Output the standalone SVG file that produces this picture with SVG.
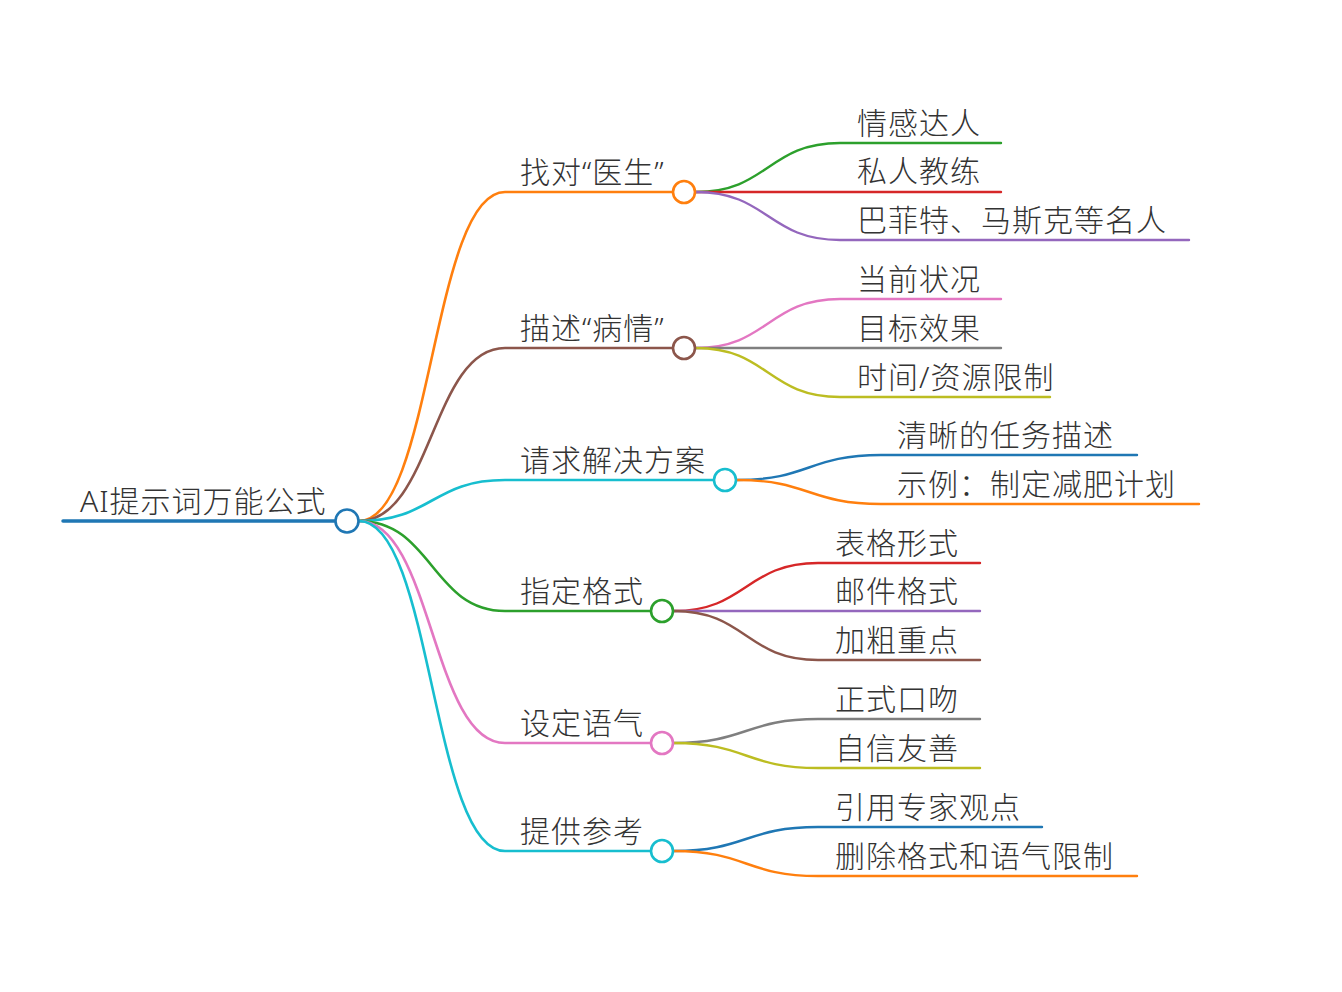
<svg xmlns="http://www.w3.org/2000/svg" width="1342" height="992" viewBox="0 0 1342 992">
<style>
text{font-family:"Noto Sans","Noto Sans CJK SC",sans-serif;font-size:30px;font-weight:300;letter-spacing:1px;fill:#333}
path{fill:none;stroke-linecap:round}
.l1{stroke-width:2.6}
.l2{stroke-width:2.4}
circle{fill:#fff;stroke-width:2.6}
</style>
<rect width="1342" height="992" fill="#fff"/>
<g id="connectors">
<path class="l1" stroke="#ff7f0e" d="M359 521C432 521 432 192 505 192H672"/>
<path class="l1" stroke="#8c564b" d="M359 521C432 521 432 348 505 348H672"/>
<path class="l1" stroke="#17becf" d="M359 521C432 521 432 480 505 480H713"/>
<path class="l1" stroke="#2ca02c" d="M359 521C432 521 432 611 505 611H650"/>
<path class="l1" stroke="#e377c2" d="M359 521C432 521 432 743 505 743H650"/>
<path class="l1" stroke="#17becf" d="M359 521C432 521 432 851 505 851H650"/>
<path class="l2" stroke="#2ca02c" d="M696 192C768 192 768 143 840 143H1001"/>
<path class="l2" stroke="#d62728" d="M696 192H1001"/>
<path class="l2" stroke="#9467bd" d="M696 192C768 192 768 240 840 240H1189"/>
<path class="l2" stroke="#e377c2" d="M696 348C768 348 768 299 840 299H1001"/>
<path class="l2" stroke="#7f7f7f" d="M696 348H1001"/>
<path class="l2" stroke="#bcbd22" d="M696 348C768 348 768 397 840 397H1050"/>
<path class="l2" stroke="#1f77b4" d="M737 480C809 480 809 455 881 455H1137"/>
<path class="l2" stroke="#ff7f0e" d="M737 480C809 480 809 504 881 504H1199"/>
<path class="l2" stroke="#d62728" d="M674 611C746 611 746 563 818 563H980"/>
<path class="l2" stroke="#9467bd" d="M674 611H980"/>
<path class="l2" stroke="#8c564b" d="M674 611C746 611 746 660 818 660H980"/>
<path class="l2" stroke="#7f7f7f" d="M674 743C746 743 746 719 818 719H980"/>
<path class="l2" stroke="#bcbd22" d="M674 743C746 743 746 768 818 768H980"/>
<path class="l2" stroke="#1f77b4" d="M674 851C746 851 746 827 818 827H1042"/>
<path class="l2" stroke="#ff7f0e" d="M674 851C746 851 746 876 818 876H1137"/>
</g>
<g id="root">
<path stroke="#1f77b4" stroke-width="3.5" d="M63 521H335"/>
<circle cx="347" cy="521" r="11.5" stroke="#1f77b4" stroke-width="3"/>
<text x="80" y="512">AI提示词万能公式</text>
</g>
<g id="n1"><circle cx="684" cy="192" r="11" stroke="#ff7f0e"/><text x="520" y="183">找对“医生”</text></g>
<g id="n1a"><text x="857" y="134">情感达人</text></g>
<g id="n1b"><text x="857" y="182">私人教练</text></g>
<g id="n1c"><text x="857" y="231">巴菲特、马斯克等名人</text></g>
<g id="n2"><circle cx="684" cy="348" r="11" stroke="#8c564b"/><text x="520" y="339">描述“病情”</text></g>
<g id="n2a"><text x="857" y="290">当前状况</text></g>
<g id="n2b"><text x="857" y="339">目标效果</text></g>
<g id="n2c"><text x="857" y="388">时间/资源限制</text></g>
<g id="n3"><circle cx="725" cy="480" r="11" stroke="#17becf"/><text x="520" y="471">请求解决方案</text></g>
<g id="n3a"><text x="897" y="446">清晰的任务描述</text></g>
<g id="n3b"><text x="897" y="495">示例：制定减肥计划</text></g>
<g id="n4"><circle cx="662" cy="611" r="11" stroke="#2ca02c"/><text x="520" y="602">指定格式</text></g>
<g id="n4a"><text x="835" y="554">表格形式</text></g>
<g id="n4b"><text x="835" y="602">邮件格式</text></g>
<g id="n4c"><text x="835" y="651">加粗重点</text></g>
<g id="n5"><circle cx="662" cy="743" r="11" stroke="#e377c2"/><text x="520" y="734">设定语气</text></g>
<g id="n5a"><text x="835" y="710">正式口吻</text></g>
<g id="n5b"><text x="835" y="759">自信友善</text></g>
<g id="n6"><circle cx="662" cy="851" r="11" stroke="#17becf"/><text x="520" y="842">提供参考</text></g>
<g id="n6a"><text x="835" y="818">引用专家观点</text></g>
<g id="n6b"><text x="835" y="867">删除格式和语气限制</text></g>
</svg>
